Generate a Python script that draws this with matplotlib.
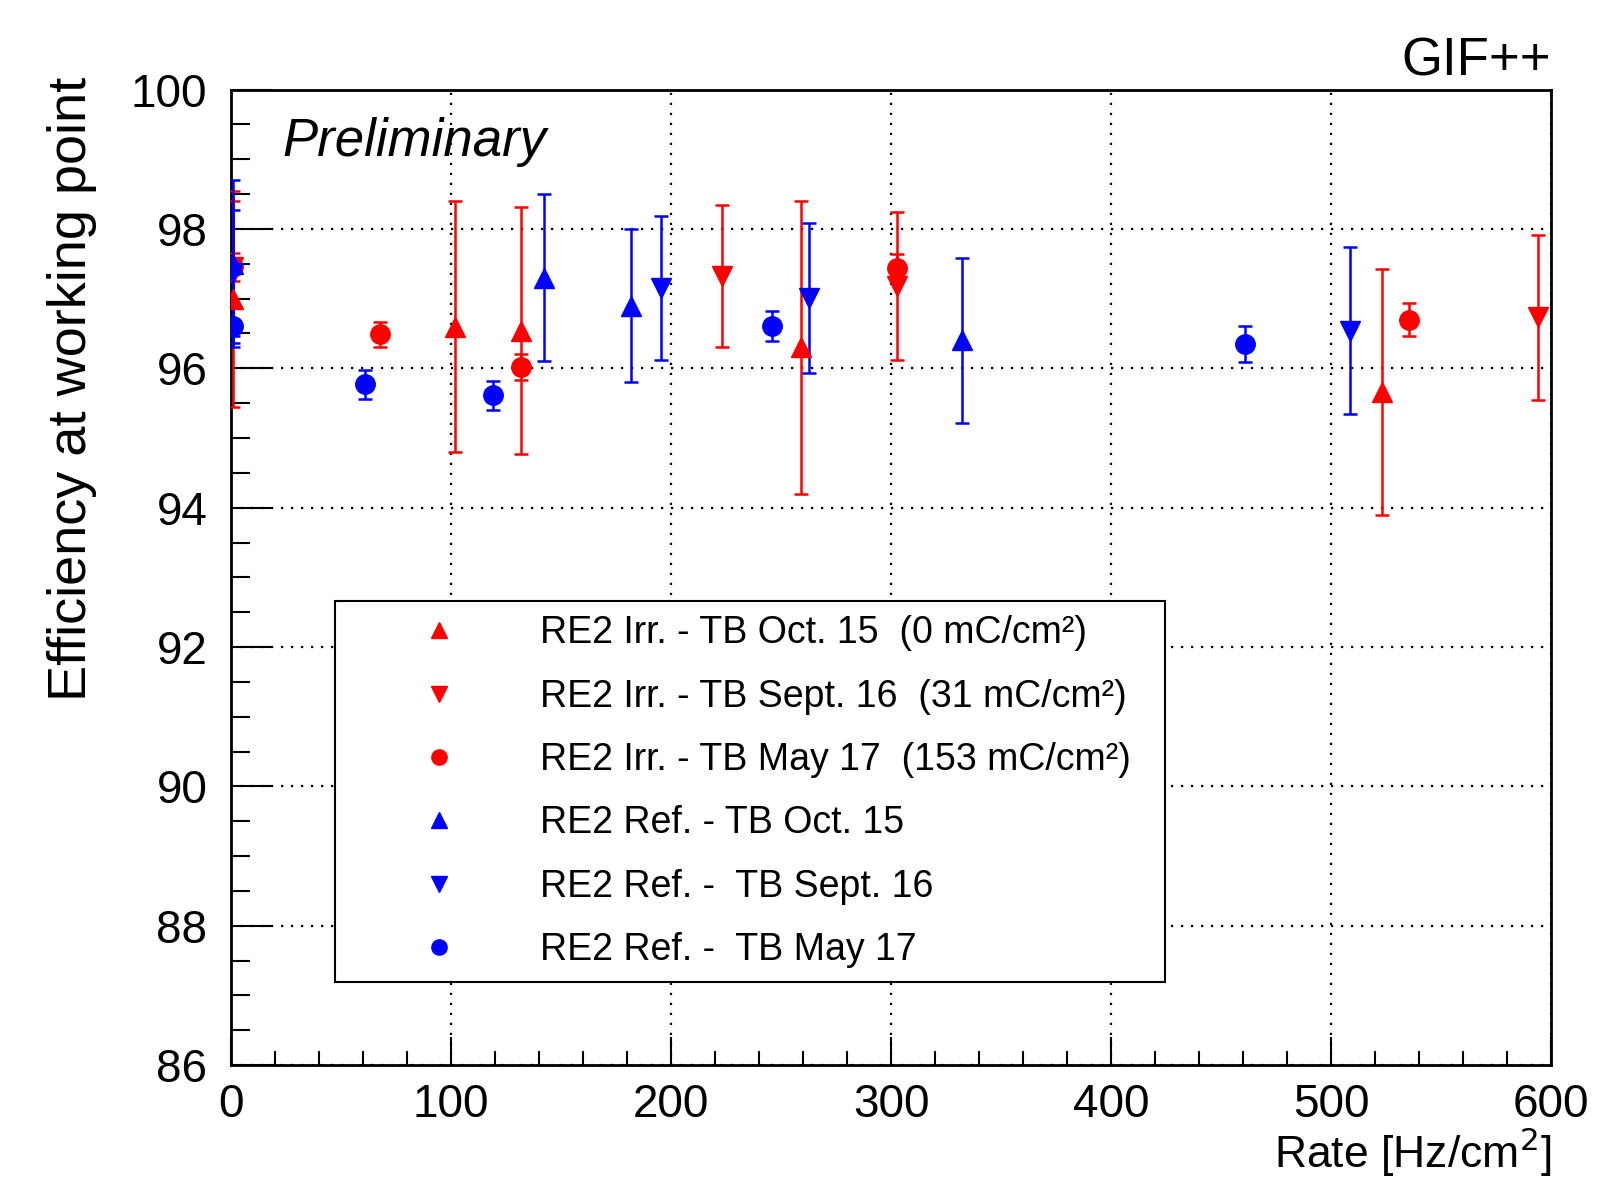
import numpy as np
import matplotlib.pyplot as plt
from matplotlib.ticker import MultipleLocator
from matplotlib.lines import Line2D

plt.rcParams['font.family'] = ['Liberation Sans', 'DejaVu Sans']

# RE2 irradiated chamber
irr_oct15_rate = [1, 101.8, 131.7, 259.2, 523.0]
irr_oct15_eff = [97.0, 96.6, 96.54, 96.3, 95.66]
irr_oct15_err = [1.55, 1.8, 1.77, 2.1, 1.77]

irr_sep16_rate = [1, 223.2, 302.9, 594.1]
irr_sep16_eff = [97.45, 97.32, 97.18, 96.73]
irr_sep16_err = [0.95, 1.02, 1.06, 1.19]

irr_may17_rate = [1, 67.7, 131.7, 302.6, 535.3]
irr_may17_eff = [97.45, 96.49, 96.02, 97.44, 96.70]
irr_may17_err = [0.2, 0.18, 0.19, 0.2, 0.24]

# RE2 reference chamber
ref_oct15_rate = [1, 142.4, 181.7, 332.1]
ref_oct15_eff = [97.5, 97.3, 96.9, 96.4]
ref_oct15_err = [1.2, 1.2, 1.1, 1.18]

ref_sep16_rate = [1, 195.3, 262.9, 508.8]
ref_sep16_eff = [97.37, 97.15, 97.01, 96.54]
ref_sep16_err = [0.9, 1.03, 1.07, 1.2]

ref_may17_rate = [1, 60.8, 118.9, 245.9, 461.0]
ref_may17_eff = [96.61, 95.77, 95.61, 96.61, 96.35]
ref_may17_err = [0.25, 0.21, 0.21, 0.22, 0.26]

series = [
    (irr_oct15_rate, irr_oct15_eff, irr_oct15_err, '^', 'red', 'RE2 Irr. - TB Oct. 15  (0 mC/cm²)'),
    (irr_sep16_rate, irr_sep16_eff, irr_sep16_err, 'v', 'red', 'RE2 Irr. - TB Sept. 16  (31 mC/cm²)'),
    (irr_may17_rate, irr_may17_eff, irr_may17_err, 'o', 'red', 'RE2 Irr. - TB May 17  (153 mC/cm²)'),
    (ref_oct15_rate, ref_oct15_eff, ref_oct15_err, '^', 'blue', 'RE2 Ref. - TB Oct. 15'),
    (ref_sep16_rate, ref_sep16_eff, ref_sep16_err, 'v', 'blue', 'RE2 Ref. -  TB Sept. 16'),
    (ref_may17_rate, ref_may17_eff, ref_may17_err, 'o', 'blue', 'RE2 Ref. -  TB May 17'),
]

fig = plt.figure(figsize=(16.06, 11.78), dpi=100)
ax = fig.add_axes([0.1438, 0.0959, 0.9658 - 0.1438, 0.9239 - 0.0959])

handles = []
for rate, eff, err, mk, col, lab in series:
    ms = 14 if mk == 'o' else 15
    ax.errorbar(rate, eff, yerr=err, fmt=mk, color=col, ms=ms, elinewidth=1.8,
                capsize=5, capthick=1.8, zorder=3)
    handles.append(Line2D([], [], marker=mk, color=col, ls='none', ms=11, label=lab))

ax.set_xlim(0, 600)
ax.set_ylim(86, 100)
ax.xaxis.set_major_locator(MultipleLocator(100))
ax.xaxis.set_minor_locator(MultipleLocator(20))
ax.yaxis.set_major_locator(MultipleLocator(2))
ax.yaxis.set_minor_locator(MultipleLocator(0.5))

ax.grid(True, which='major', color='black', linestyle=(0, (1, 3.5)), linewidth=1.6)
ax.set_axisbelow(True)

ax.tick_params(axis='both', which='both', direction='in', top=False, right=False,
               labelsize=33, width=1.5)
ax.tick_params(axis='x', which='major', length=20, pad=13)
ax.tick_params(axis='x', which='minor', length=10)
ax.tick_params(axis='y', which='major', length=29, pad=17)
ax.tick_params(axis='y', which='minor', length=14)
for s in ax.spines.values():
    s.set_linewidth(2)

leg = ax.legend(handles=handles, loc='upper left',
                bbox_to_anchor=(0.0788, 0.0841, 0.7076 - 0.0788, 0.4757 - 0.0841),
                mode='expand', fontsize=27, frameon=True, fancybox=False,
                edgecolor='black', framealpha=1, borderpad=0.38, labelspacing=0.73,
                handlelength=4.8, handletextpad=0.3, borderaxespad=0)
leg.get_frame().set_linewidth(1.5)

fig.text(72 / 1606, 1 - 77 / 1178, 'Efficiency at working point', rotation=90,
         ha='center', va='top', fontsize=39)
fig.text(1551 / 1606, 1 - 1168 / 1178, 'Rate [Hz/cm$^{2}$]', ha='right',
         va='baseline', fontsize=32)
fig.text(1551 / 1606, 1 - 75 / 1178, 'GIF++', ha='right', va='baseline', fontsize=38)
fig.text(282 / 1606, 1 - 156 / 1178, 'Preliminary', ha='left', va='baseline',
         fontsize=38, style='italic')

fig.savefig('out.png', dpi=100)
